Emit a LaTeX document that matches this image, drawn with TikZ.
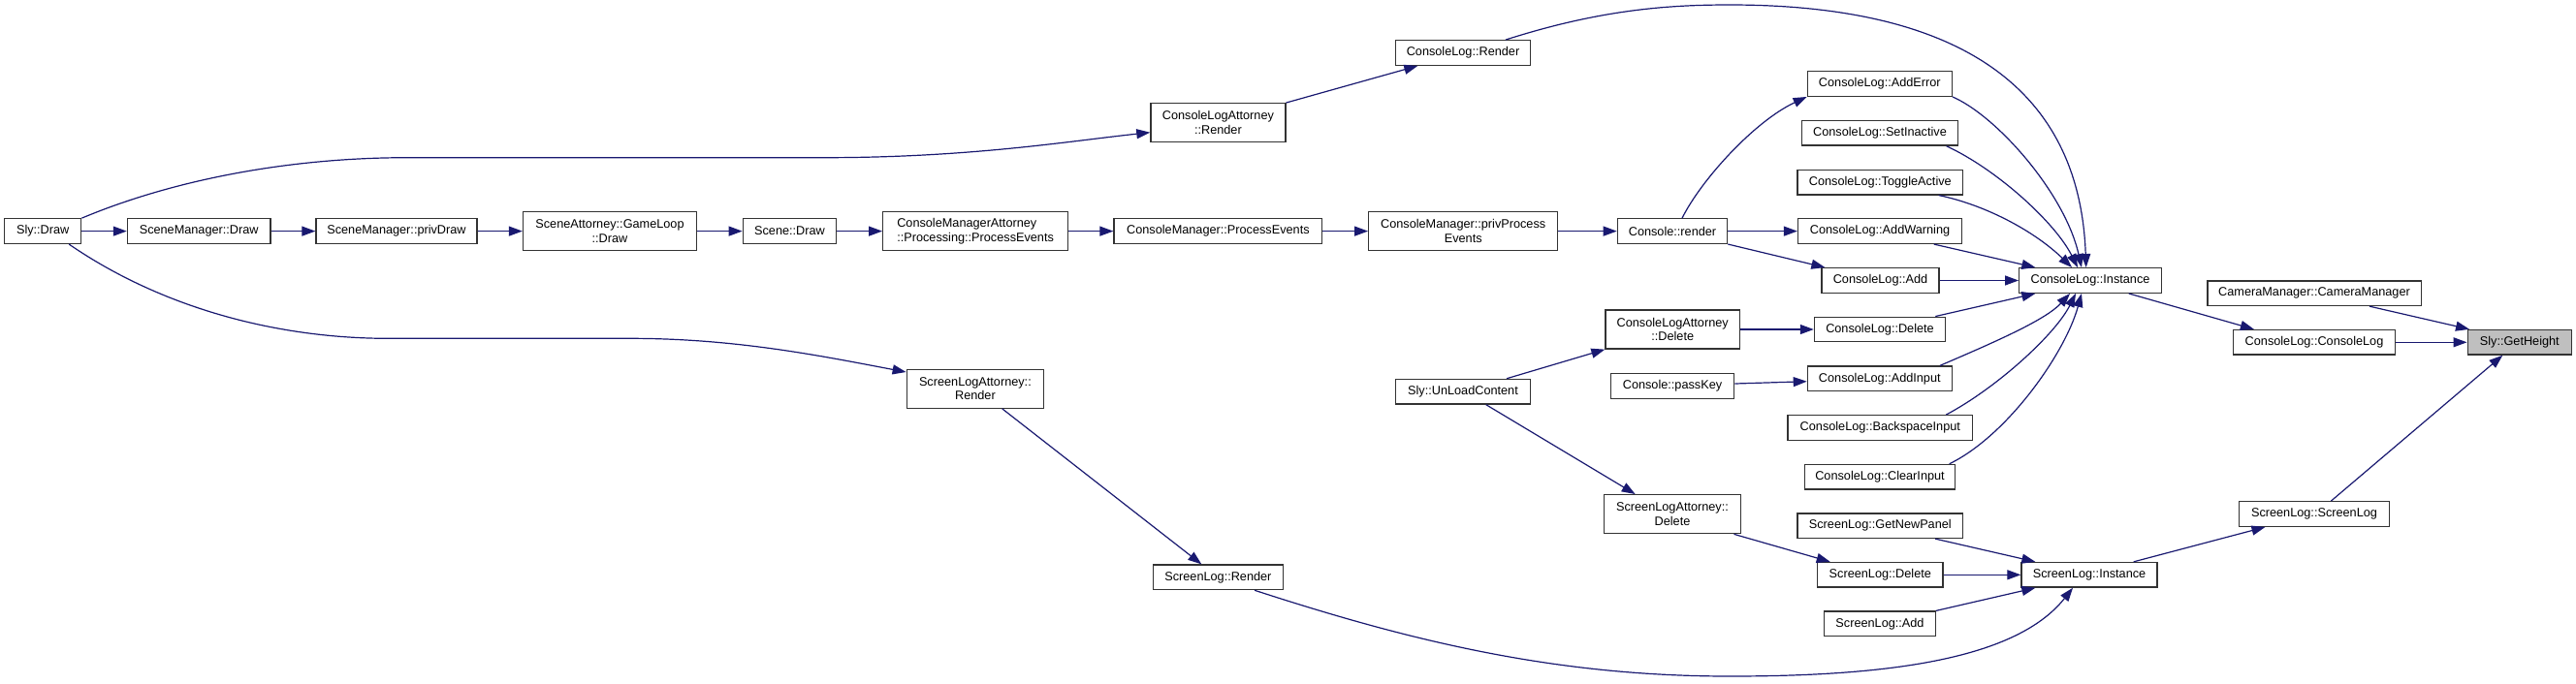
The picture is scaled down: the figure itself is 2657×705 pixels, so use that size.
\documentclass[tikz,border=0pt]{standalone}
\usepackage{fontspec}
\setmainfont{Liberation Sans}
\usetikzlibrary{arrows.meta}
\definecolor{edgec}{HTML}{191970}
\definecolor{boxc}{HTML}{333333}
\definecolor{hlfill}{HTML}{BFBFBF}
\begin{document}
\begin{tikzpicture}[x=1pt,y=-1pt,
  box/.style={draw=boxc, line width=1.3pt, fill=white, inner sep=0pt, align=center,
    minimum height=25.6pt, font=\fontsize{12.7}{14.7}\selectfont},
  tall/.style={minimum height=40pt},
  edge/.style={draw=edgec, line width=1.2pt, -{Triangle[length=14pt,width=10pt]}}]
\useasboundingbox (0,0) rectangle (2657,705);

% main row
\node[box, minimum width=79pt] (slydraw) at (44.2,238.6) {Sly::Draw};
\node[box, minimum width=147.6pt] (smdraw) at (205.2,238.6) {SceneManager::Draw};
\node[box, minimum width=166pt] (smpriv) at (409,238.6) {SceneManager::privDraw};
\node[box, tall, minimum width=179pt] (sagl) at (629,238.6) {SceneAttorney::GameLoop\\::Draw};
\node[box, minimum width=96.4pt] (scenedraw) at (814.5,238.6) {Scene::Draw};
\node[box, tall, minimum width=190.8pt, align=left] (cmape) at (1006.1,238.6) {ConsoleManagerAttorney\\::Processing::ProcessEvents};
\node[box, minimum width=214.8pt] (cmpe) at (1256.4,238.6) {ConsoleManager::ProcessEvents};
\node[box, tall, minimum width=195pt] (cmppe) at (1509.2,238.6) {ConsoleManager::privProcess\\Events};
\node[box, minimum width=113.3pt] (crender) at (1725,238.6) {Console::render};

% upper/lower branches
\node[box, minimum width=139.3pt] (clrender) at (1509,54.5) {ConsoleLog::Render};
\node[box, tall, minimum width=139pt] (clarender) at (1256.4,126.7) {ConsoleLogAttorney\\::Render};
\node[box, tall, minimum width=141.3pt] (slarender) at (1005.9,401.2) {ScreenLogAttorney::\\Render};
\node[box, minimum width=133.5pt] (slrender) at (1256.4,595.8) {ScreenLog::Render};
\node[box, minimum width=139.3pt] (unload) at (1509,404.2) {Sly::UnLoadContent};
\node[box, tall, minimum width=138.4pt] (cladel) at (1725.2,340) {ConsoleLogAttorney\\::Delete};
\node[box, minimum width=127.6pt] (passkey) at (1725,398.5) {Console::passKey};
\node[box, tall, minimum width=140.8pt] (sladelatt) at (1725,530.7) {ScreenLogAttorney::\\Delete};

% column of callers
\node[box, minimum width=149pt] (claderr) at (1938.8,86.5) {ConsoleLog::AddError};
\node[box, minimum width=160.7pt] (clsetin) at (1939,137.3) {ConsoleLog::SetInactive};
\node[box, minimum width=170.4pt] (cltoggle) at (1939.3,188.1) {ConsoleLog::ToggleActive};
\node[box, minimum width=169pt] (clwarn) at (1939,238.6) {ConsoleLog::AddWarning};
\node[box, minimum width=121pt] (cladd) at (1939.5,289.5) {ConsoleLog::Add};
\node[box, minimum width=135.2pt] (cldel) at (1939,340) {ConsoleLog::Delete};
\node[box, minimum width=149pt] (clinput) at (1938.8,390.8) {ConsoleLog::AddInput};
\node[box, minimum width=190.8pt] (clback) at (1939.3,441.5) {ConsoleLog::BackspaceInput};
\node[box, minimum width=155.6pt] (clclear) at (1939,492.2) {ConsoleLog::ClearInput};
\node[box, minimum width=170.5pt] (slnewp) at (1939.3,542.7) {ScreenLog::GetNewPanel};
\node[box, minimum width=129.5pt] (sldel) at (1939.3,593.3) {ScreenLog::Delete};
\node[box, minimum width=114.8pt] (sladd) at (1939,643.8) {ScreenLog::Add};

% right part
\node[box, minimum width=146.6pt] (clinst) at (2156,289.5) {ConsoleLog::Instance};
\node[box, minimum width=140pt] (slinst) at (2155,593.3) {ScreenLog::Instance};
\node[box, minimum width=220.3pt] (cammgr) at (2387,302.7) {CameraManager::CameraManager};
\node[box, minimum width=167pt] (clctor) at (2387,353.3) {ConsoleLog::ConsoleLog};
\node[box, minimum width=155.2pt] (slctor) at (2387,530.5) {ScreenLog::ScreenLog};
\node[box, minimum width=107.3pt, fill=hlfill] (getheight) at (2598.8,353.3) {Sly::GetHeight};

% main row edges
\draw[edge] (slydraw.east) -- (smdraw.west);
\draw[edge] (smdraw.east) -- (smpriv.west);
\draw[edge] (smpriv.east) -- (sagl.west);
\draw[edge] (sagl.east) -- (scenedraw.west);
\draw[edge] (scenedraw.east) -- (cmape.west);
\draw[edge] (cmape.east) -- (cmpe.west);
\draw[edge] (cmpe.east) -- (cmppe.west);
\draw[edge] (cmppe.east) -- (crender.west);

% Sly::Draw branches
\draw[edge] (slydraw.north east) .. controls (180,185) and (300,162.7) .. (420,162.7) -- (850,162.7)
  .. controls (1000,162.7) and (1100,146) .. ([yshift=-10pt]clarender.west);
\draw[edge] ([xshift=-13.2pt]slydraw.south east) .. controls (170,320) and (290,349.3) .. (400,349.3) -- (650,349.3)
  .. controls (760,349.3) and (850,368) .. ([yshift=17.2pt]slarender.west);
\draw[edge] (clarender.north east) -- ([xshift=23.6pt]clrender.south west);
\draw[edge] ([xshift=27.8pt]slarender.south) -- ([xshift=-17.1pt]slrender.north);
\draw[edge] ([xshift=44pt]clrender.north) .. controls (1650,10) and (1720,5) .. (1784,5)
  .. controls (2020,5) and (2145,90) .. ([xshift=-4.3pt]clinst.north);
\draw[edge] ([xshift=37.6pt]slrender.south) .. controls (1450,660) and (1600,698) .. (1784,698)
  .. controls (1950,698) and (2080,680) .. ([xshift=-17pt]slinst.south);

% Console::render
\draw[edge] ([xshift=10pt]crender.north) .. controls (1755,185) and (1810,125) .. (claderr.south west);
\draw[edge] (crender.east) -- (clwarn.west);
\draw[edge] (crender.south east) -- ([xshift=4pt]cladd.north west);

% into ConsoleLog::Instance
\draw[edge] (claderr.south east) .. controls (2060,120) and (2130,200) .. ([xshift=-9pt]clinst.north);
\draw[edge] ([xshift=-12.4pt]clsetin.south east) .. controls (2060,175) and (2120,230) .. ([xshift=-13pt]clinst.north);
\draw[edge] ([xshift=-25.5pt]cltoggle.south east) .. controls (2050,212) and (2100,240) .. ([xshift=-19pt]clinst.north);
\draw[edge] ([xshift=-29.5pt]clwarn.south east) -- ([xshift=17.3pt]clinst.north west);
\draw[edge] (cladd.east) -- (clinst.west);
\draw[edge] ([xshift=-11pt]cldel.north east) -- ([xshift=17.3pt]clinst.south west);
\draw[edge] ([xshift=-13pt]clinput.north east) .. controls (2060,352) and (2110,330) .. ([xshift=-21pt]clinst.south);
\draw[edge] ([xshift=-28pt]clback.north east) .. controls (2060,400) and (2120,345) .. ([xshift=-15pt]clinst.south);
\draw[edge] ([xshift=-6.8pt]clclear.north east) .. controls (2070,450) and (2130,365) .. ([xshift=-9pt]clinst.south);

% UnLoadContent etc.
\draw[edge] ([xshift=45pt]unload.north) -- (cladel.south west);
\draw[edge] ([xshift=23.7pt]unload.south) -- ([xshift=-38.3pt]sladelatt.north);
\draw[edge] ([yshift=2.5pt]passkey.east) -- ([yshift=-2.9pt]clinput.west);
\draw[edge] (cladel.east) -- (cldel.west);
\draw[edge] ([xshift=-7.6pt]sladelatt.south east) -- ([xshift=13.8pt]sldel.north west);

% into ScreenLog::Instance
\draw[edge] ([xshift=-29pt]slnewp.south east) -- ([xshift=15pt]slinst.north west);
\draw[edge] (sldel.east) -- (slinst.west);
\draw[edge] (sladd.north east) -- ([xshift=15pt]slinst.south west);

% right side
\draw[edge] ([xshift=-34.3pt]clinst.south east) -- ([xshift=22pt]clctor.north west);
\draw[edge] ([xshift=57pt]cammgr.south) -- ([xshift=2.5pt]getheight.north west);
\draw[edge] (clctor.east) -- (getheight.west);
\draw[edge] ([xshift=17.4pt]slctor.north) -- ([xshift=-17.5pt]getheight.south);
\draw[edge] ([xshift=-25pt]slinst.north east) -- ([xshift=27.7pt]slctor.south west);
\end{tikzpicture}
\end{document}
